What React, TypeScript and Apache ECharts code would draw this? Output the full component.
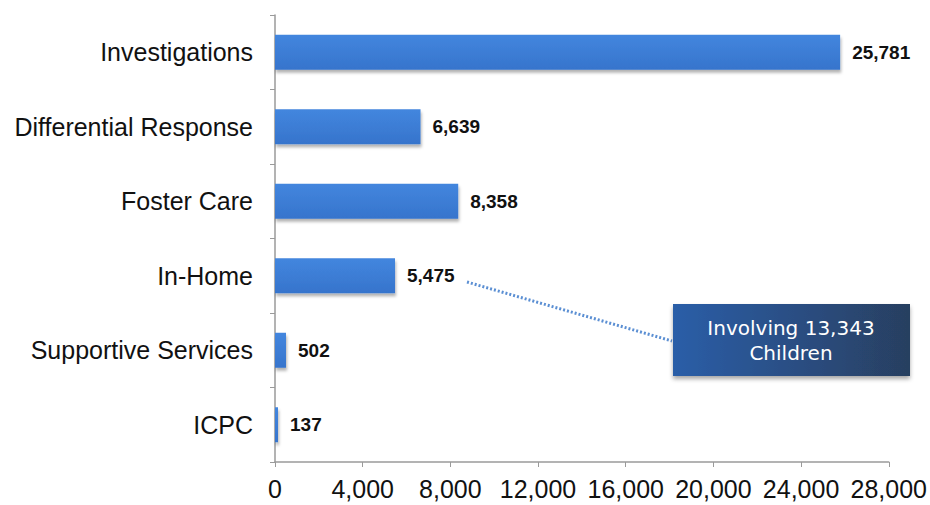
import React, { useEffect, useRef } from "react";
import * as echarts from "echarts";

const categories = ["Investigations", "Differential Response", "Foster Care", "In-Home", "Supportive Services", "ICPC"];
const values = [25781, 6639, 8358, 5475, 502, 137];
const xTicks = { min: 0, max: 28000, interval: 4000 };
const calloutLines = ["Involving 13,343", "Children"];

export default function App() {
  const ref = useRef<HTMLDivElement>(null);
  useEffect(() => {
    const chart = echarts.init(ref.current!, null, { renderer: "svg" });
    chart.setOption({
      animation: false,
      backgroundColor: "#ffffff",
      grid: { left: 275, right: 41, top: 15, bottom: 43 },
      xAxis: {
        type: "value",
        min: xTicks.min,
        max: xTicks.max,
        interval: xTicks.interval,
        splitLine: { show: false },
        axisLine: { show: true, lineStyle: { color: "#9a9a9a", width: 1.5 } },
        axisTick: { show: true, length: 5, lineStyle: { color: "#9a9a9a" } },
        axisLabel: {
          color: "#111",
          fontSize: 25,
          fontFamily: "Liberation Sans, Arial, sans-serif",
          margin: 14,
          formatter: (v: number) => v.toLocaleString("en-US"),
        },
      },
      yAxis: {
        type: "category",
        inverse: true,
        data: categories,
        axisLine: { show: true, lineStyle: { color: "#9a9a9a", width: 1.5 } },
        axisTick: { show: true, length: 5, lineStyle: { color: "#9a9a9a" } },
        axisLabel: {
          color: "#111",
          fontSize: 25,
          fontFamily: "Liberation Sans, Arial, sans-serif",
          margin: 22,
        },
      },
      series: [
        {
          type: "bar",
          data: values,
          barWidth: 35,
          itemStyle: {
            color: new echarts.graphic.LinearGradient(0, 0, 0, 1, [
              { offset: 0, color: "#4386de" },
              { offset: 1, color: "#3674cc" },
            ]),
            shadowColor: "rgba(0,0,0,0.3)",
            shadowBlur: 3,
            shadowOffsetY: 3,
            shadowOffsetX: 1,
          },
          label: {
            show: true,
            position: "right",
            distance: 12,
            color: "#111",
            fontSize: 19,
            fontWeight: "bold",
            fontFamily: "Liberation Sans, Arial, sans-serif",
            formatter: (p: any) => Number(p.value).toLocaleString("en-US"),
          },
        },
      ],
      graphic: [
        {
          type: "line",
          shape: { x1: 467, y1: 282, x2: 672, y2: 341 },
          style: { stroke: "#5b8fd3", lineWidth: 3, lineDash: [2, 2] },
        },
        {
          type: "rect",
          shape: { x: 673, y: 304, width: 237, height: 72 },
          style: {
            fill: new echarts.graphic.LinearGradient(0, 0, 1, 0, [
              { offset: 0, color: "#2c5ea8" },
              { offset: 1, color: "#283f60" },
            ]),
            shadowColor: "rgba(0,0,0,0.35)",
            shadowBlur: 4,
            shadowOffsetY: 3,
          },
        },
        {
          type: "text",
          x: 791,
          y: 340,
          style: {
            text: calloutLines.join("\n"),
            fill: "#ffffff",
            fontSize: 20,
            lineHeight: 25,
            fontFamily: "DejaVu Sans, Verdana, sans-serif",
            align: "center",
            verticalAlign: "middle",
          },
        },
      ],
    });
    return () => chart.dispose();
  }, []);
  return <div ref={ref} style={{ width: 930, height: 505, position: "absolute", left: 0, top: 0 }} />;
}
